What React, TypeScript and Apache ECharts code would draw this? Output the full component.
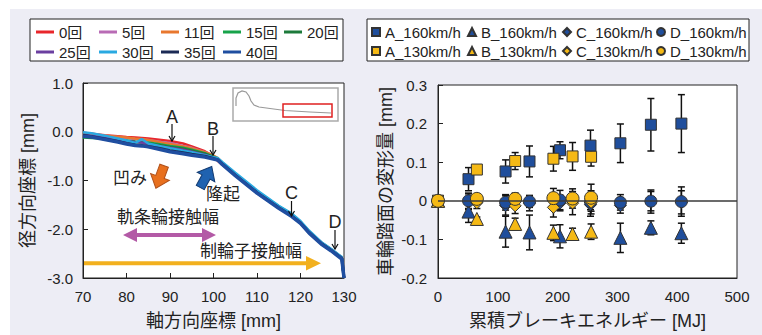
import React, { useEffect, useRef } from "react";
import * as echarts from "echarts";

const FONT = '"Liberation Sans", "Noto Sans CJK JP", sans-serif';

// ---- Left chart: tread profile (axial coordinate vs radial coordinate) ----
const profileX = [70, 72, 75, 78, 80, 82, 83.5, 85, 88, 90, 93, 95, 98, 100, 101, 102, 105, 110, 115, 118, 120, 122, 125, 127, 129.5, 130];
const profile0 = [-0.02, -0.04, -0.07, -0.09, -0.11, -0.12, -0.13, -0.14, -0.17, -0.19, -0.24, -0.3, -0.4, -0.5, -0.6, -0.67, -0.88, -1.24, -1.55, -1.72, -1.86, -2.05, -2.29, -2.41, -2.58, -3.0];
const profile5 = [-0.03, -0.05, -0.08, -0.11, -0.13, -0.15, -0.16, -0.17, -0.21, -0.23, -0.29, -0.33, -0.42, -0.5, -0.55, -0.64, -0.87, -1.23, -1.54, -1.71, -1.86, -2.05, -2.29, -2.41, -2.58, -3.0];
const profile11 = [-0.04, -0.06, -0.08, -0.1, -0.12, -0.14, -0.15, -0.17, -0.22, -0.25, -0.3, -0.34, -0.42, -0.49, -0.54, -0.63, -0.86, -1.23, -1.54, -1.71, -1.85, -2.05, -2.29, -2.41, -2.58, -3.0];
const profile15 = [-0.12, -0.13, -0.14, -0.16, -0.18, -0.2, -0.21, -0.22, -0.26, -0.29, -0.33, -0.37, -0.44, -0.51, -0.55, -0.64, -0.87, -1.22, -1.53, -1.69, -1.85, -2.05, -2.3, -2.42, -2.59, -3.0];
const profile20 = [-0.1, -0.12, -0.14, -0.17, -0.19, -0.21, -0.22, -0.24, -0.28, -0.31, -0.35, -0.39, -0.45, -0.52, -0.56, -0.65, -0.87, -1.23, -1.54, -1.7, -1.86, -2.06, -2.3, -2.42, -2.59, -3.0];
const profile25 = [-0.06, -0.08, -0.12, -0.16, -0.19, -0.21, -0.22, -0.25, -0.3, -0.33, -0.37, -0.41, -0.47, -0.53, -0.57, -0.65, -0.88, -1.24, -1.55, -1.71, -1.86, -2.06, -2.3, -2.42, -2.59, -3.0];
const profile30 = [-0.01, -0.03, -0.08, -0.14, -0.18, -0.23, -0.15, -0.24, -0.3, -0.34, -0.39, -0.42, -0.48, -0.52, -0.54, -0.62, -0.84, -1.2, -1.52, -1.68, -1.83, -2.03, -2.28, -2.4, -2.57, -3.0];
const profile35 = [-0.07, -0.1, -0.15, -0.2, -0.24, -0.27, -0.28, -0.3, -0.35, -0.39, -0.43, -0.46, -0.5, -0.55, -0.58, -0.66, -0.89, -1.25, -1.56, -1.73, -1.87, -2.07, -2.31, -2.43, -2.6, -3.0];
const profile40 = [-0.09, -0.11, -0.16, -0.21, -0.25, -0.28, -0.29, -0.31, -0.37, -0.41, -0.45, -0.48, -0.52, -0.56, -0.58, -0.67, -0.9, -1.26, -1.57, -1.74, -1.88, -2.08, -2.32, -2.44, -2.61, -3.0];

const profileNames = ["0回", "5回", "11回", "15回", "20回", "25回", "30回", "35回", "40回"];
const profileColors = ["#e8262b", "#b86bb5", "#e8772e", "#17a34a", "#1d7a3b", "#6b3fa0", "#29a9e1", "#1b2a55", "#1f4ea0"];
const profileWidths = [2.5, 2.5, 2.5, 2.5, 2.5, 2.5, 2.5, 3, 3.5];
const profiles = [profile0, profile5, profile11, profile15, profile20, profile25, profile30, profile35, profile40];

const leftXTicks = { min: 70, max: 130, interval: 10 };
const leftYTicks = { min: -3, max: 1, interval: 1 };

// ---- Right chart: deformation vs cumulative brake energy ----
const energy160 = [0, 51, 113, 153, 204, 255, 305, 356, 407];
const energyB160 = [0, 51, 113, 153, 204, 305, 356, 407];
const energy130 = [0, 65, 129, 193, 225, 256];

const defA160 = [0, 0.056, 0.076, 0.102, 0.131, 0.143, 0.149, 0.197, 0.2];
const errA160 = [0, 0.03, 0.03, 0.04, 0.022, 0.04, 0.05, 0.068, 0.075];
const defB160 = [0, -0.028, -0.08, -0.082, -0.092, -0.096, -0.07, -0.084];
const errB160 = [0, 0.028, 0.04, 0.045, 0.03, 0.038, 0.018, 0.026];
const defC160 = [0, -0.002, -0.012, -0.006, -0.006, -0.01, -0.012, -0.002, -0.004];
const errC160 = [0, 0.02, 0.025, 0.02, 0.02, 0.03, 0.02, 0.03, 0.03];
const defD160 = [0, 0, -0.004, -0.002, 0.002, -0.003, -0.004, -0.001, -0.002];
const errD160 = [0, 0.02, 0.02, 0.015, 0.025, 0.02, 0.02, 0.025, 0.038];

const defA130 = [0, 0.081, 0.103, 0.109, 0.115, 0.114];
const errA130 = [0, 0.003, 0.022, 0.032, 0.036, 0.024];
const defB130 = [0, -0.047, -0.06, -0.083, -0.086, -0.08];
const errB130 = [0, 0.005, 0.015, 0.02, 0.015, 0.02];
const defC130 = [0, -0.005, -0.013, -0.017, -0.006, -0.004];
const errC130 = [0, 0.015, 0.02, 0.025, 0.03, 0.03];
const defD130 = [0, 0.005, 0.005, 0.007, 0.006, 0.008];
const errD130 = [0, 0.01, 0.015, 0.025, 0.025, 0.035];

const rightXTicks = { min: 0, max: 500, interval: 100 };
const rightYTicks = { min: -0.2, max: 0.3, interval: 0.1 };

const BLUE = "#1f4e9c";
const YELLOW = "#f5b915";

const scatterDefs = [
  { name: "A_160km/h", x: energy160, y: defA160, e: errA160, symbol: "rect", size: 11, color: BLUE },
  { name: "B_160km/h", x: energyB160, y: defB160, e: errB160, symbol: "triangle", size: 13, color: BLUE },
  { name: "C_160km/h", x: energy160, y: defC160, e: errC160, symbol: "diamond", size: 12, color: BLUE },
  { name: "D_160km/h", x: energy160, y: defD160, e: errD160, symbol: "circle", size: 12, color: BLUE },
  { name: "A_130km/h", x: energy130, y: defA130, e: errA130, symbol: "rect", size: 11, color: YELLOW },
  { name: "B_130km/h", x: energy130, y: defB130, e: errB130, symbol: "triangle", size: 13, color: YELLOW },
  { name: "C_130km/h", x: energy130, y: defC130, e: errC130, symbol: "diamond", size: 12, color: YELLOW },
  { name: "D_130km/h", x: energy130, y: defD130, e: errD130, symbol: "circle", size: 13, color: YELLOW },
];

function errorRender(params: any, api: any) {
  const x = api.value(0);
  const y = api.value(1);
  const e = api.value(2);
  if (!e) return null;
  const top = api.coord([x, y + e]);
  const bot = api.coord([x, y - e]);
  const w = 3.5;
  const style = { stroke: "#111", lineWidth: 1.5 };
  return {
    type: "group",
    children: [
      { type: "line", shape: { x1: top[0], y1: top[1], x2: bot[0], y2: bot[1] }, style },
      { type: "line", shape: { x1: top[0] - w, y1: top[1], x2: top[0] + w, y2: top[1] }, style },
      { type: "line", shape: { x1: bot[0] - w, y1: bot[1], x2: bot[0] + w, y2: bot[1] }, style },
    ],
  };
}

function arrowDown(x: number, y1: number, y2: number) {
  return [
    { type: "line", shape: { x1: x, y1, x2: x, y2 }, style: { stroke: "#111", lineWidth: 1.2 } },
    { type: "polyline", shape: { points: [[x - 3, y2 - 5], [x, y2], [x + 3, y2 - 5]] }, style: { stroke: "#111", lineWidth: 1.2, fill: null } },
  ];
}

function blockArrow(cx: number, cy: number, rot: number, fill: string, stroke: string) {
  return {
    type: "polygon",
    x: cx,
    y: cy,
    rotation: rot,
    shape: { points: [[-4.5, 12], [4.5, 12], [4.5, 0], [10, 0], [0, -12], [-10, 0], [-4.5, 0]] },
    style: { fill, stroke, lineWidth: 1 },
  };
}

function txt(x: number, y: number, s: string, size = 17) {
  return {
    type: "text",
    x,
    y,
    style: { text: s, fontSize: size, fontFamily: FONT, fill: "#222", align: "center", verticalAlign: "middle" },
  };
}

export default function App() {
  const ref = useRef<HTMLDivElement>(null);
  useEffect(() => {
    if (!ref.current) return;
    const chart = echarts.init(ref.current, null, { renderer: "svg" });

    const labelStyle = { fontSize: 15, color: "#222", fontFamily: FONT };
    const nameStyle = { fontSize: 18, color: "#222", fontFamily: FONT };
    const axisLine = { show: true, onZero: false, lineStyle: { color: "#222", width: 1 } };
    const axisTick = { show: true, inside: true, length: 5, lineStyle: { color: "#222", width: 1 } };

    const lineSeries = profiles.map((ys, i) => ({
      name: profileNames[i],
      type: "line",
      xAxisIndex: 0,
      yAxisIndex: 0,
      showSymbol: false,
      symbol: "none",
      data: profileX.map((x, j) => [x, ys[j]]),
      lineStyle: { color: profileColors[i], width: profileWidths[i] },
      itemStyle: { color: profileColors[i] },
      z: 2 + i * 0.01,
      silent: true,
    }));

    const errSeries = scatterDefs.map((d) => ({
      name: d.name + "_err",
      type: "custom",
      xAxisIndex: 1,
      yAxisIndex: 1,
      renderItem: errorRender,
      data: d.x.map((x, j) => [x, d.y[j], d.e[j]]),
      z: 3,
      silent: true,
    }));

    const scatterSeries = scatterDefs.map((d, i) => ({
      name: d.name,
      type: "scatter",
      xAxisIndex: 1,
      yAxisIndex: 1,
      symbol: d.symbol,
      symbolSize: d.size,
      data: d.x.map((x, j) => [x, d.y[j]]),
      itemStyle: { color: d.color, borderColor: "#333", borderWidth: 1, opacity: 1 },
      z: 4 + i * 0.01,
      silent: true,
      ...(i === 0
        ? {
            markLine: {
              silent: true,
              symbol: "none",
              label: { show: false },
              lineStyle: { color: "#3a3a3a", width: 1.5, type: "solid" },
              data: [{ yAxis: 0 }],
            },
          }
        : {}),
    }));

    const leftLegendCols = [
      { data: ["0回", "25回"], left: 36 },
      { data: ["5回", "30回"], left: 99 },
      { data: ["11回", "35回"], left: 161 },
      { data: ["15回", "40回"], left: 223 },
      { data: ["20回"], left: 284 },
    ].map((c) => ({
      data: c.data,
      left: c.left,
      top: 24,
      orient: "vertical",
      icon: "rect",
      itemWidth: 18,
      itemHeight: 3,
      itemGap: 4,
      padding: 0,
      selectedMode: false,
      textStyle: { fontSize: 15, color: "#222", fontFamily: FONT, lineHeight: 16 },
    }));

    const rightLegendCols = [
      { data: ["A_160km/h", "A_130km/h"], left: 371 },
      { data: ["B_160km/h", "B_130km/h"], left: 467 },
      { data: ["C_160km/h", "C_130km/h"], left: 562 },
      { data: ["D_160km/h", "D_130km/h"], left: 656 },
    ].map((c) => ({
      data: c.data,
      left: c.left,
      top: 24,
      orient: "vertical",
      itemWidth: 8,
      itemHeight: 8,
      itemGap: 3,
      padding: 0,
      selectedMode: false,
      textStyle: { fontSize: 15, color: "#222", fontFamily: FONT, lineHeight: 16 },
    }));

    const graphics: any[] = [
      { type: "rect", shape: { x: 30, y: 19, width: 313, height: 42 }, style: { fill: "#fff", stroke: "#222", lineWidth: 1 }, z: -1 },
      { type: "rect", shape: { x: 367, y: 19, width: 382, height: 42 }, style: { fill: "#fff", stroke: "#222", lineWidth: 1 }, z: -1 },
      // inset sketch
      { type: "rect", shape: { x: 233, y: 88, width: 105, height: 33 }, style: { fill: "#fff", stroke: "#aaa", lineWidth: 1.5 }, z: 10 },
      {
        type: "polyline",
        shape: { points: [[236, 106], [236, 98], [238, 93], [242, 91], [246, 92], [249, 96], [251, 101], [254, 105], [259, 107], [270, 108.5], [285, 110.5], [310, 112], [331, 113]] },
        style: { stroke: "#999", lineWidth: 1.2, fill: null },
        z: 11,
      },
      { type: "rect", shape: { x: 283, y: 104, width: 49, height: 13 }, style: { fill: null, stroke: "#e02020", lineWidth: 1.5 }, z: 12 },
      // labels A-D with arrows
      { ...txt(172, 117, "A", 18), z: 10 },
      ...arrowDown(172, 124, 141).map((g) => ({ ...g, z: 10 })),
      { ...txt(213, 129, "B", 18), z: 10 },
      ...arrowDown(213, 136, 155).map((g) => ({ ...g, z: 10 })),
      { ...txt(291.5, 193, "C", 18), z: 10 },
      ...arrowDown(291.5, 201, 216).map((g) => ({ ...g, z: 10 })),
      { ...txt(335, 222, "D", 18), z: 10 },
      ...arrowDown(335, 230, 249).map((g) => ({ ...g, z: 10 })),
      // dent / bulge
      { ...txt(130, 178, "凹み"), z: 10 },
      { ...blockArrow(160, 177, Math.PI - 0.35, "#e8701e", "#b0501a"), z: 10 },
      { ...blockArrow(206, 177, -0.5, "#1f62b0", "#123a70"), z: 10 },
      { ...txt(223, 194, "隆起"), z: 10 },
      // contact widths
      { ...txt(168, 217, "軌条輪接触幅"), z: 10 },
      {
        type: "polygon",
        shape: { points: [[123, 235], [137, 228], [137, 233], [202, 233], [202, 228], [216, 235], [202, 242], [202, 237], [137, 237], [137, 242]] },
        style: { fill: "#b35aa6" },
        z: 10,
      },
      { ...txt(251, 251, "制輪子接触幅"), z: 10 },
      {
        type: "polygon",
        shape: { points: [[84, 261.3], [306, 261.3], [306, 256], [321, 263.3], [306, 270.5], [306, 265.3], [84, 265.3]] },
        style: { fill: "#f2b01e" },
        z: 10,
      },
    ];

    chart.setOption({
      animation: false,
      backgroundColor: "transparent",
      textStyle: { fontFamily: FONT },
      legend: [...leftLegendCols, ...rightLegendCols],
      graphic: graphics,
      grid: [
        { left: 83, top: 83, width: 261, height: 197, show: true, backgroundColor: "#fff", borderColor: "#222", borderWidth: 1 },
        { left: 438, top: 85, width: 299, height: 197, show: true, backgroundColor: "#fff", borderColor: "#222", borderWidth: 1 },
      ],
      xAxis: [
        {
          gridIndex: 0,
          type: "value",
          ...leftXTicks,
          name: "軸方向座標 [mm]",
          nameLocation: "middle",
          nameGap: 34,
          nameTextStyle: nameStyle,
          axisLine,
          axisTick,
          splitLine: { show: false },
          axisLabel: { ...labelStyle, margin: 11 },
        },
        {
          gridIndex: 1,
          type: "value",
          ...rightXTicks,
          name: "累積ブレーキエネルギー [MJ]",
          nameLocation: "middle",
          nameGap: 34,
          nameTextStyle: nameStyle,
          axisLine,
          axisTick: { show: false },
          splitLine: { show: false },
          axisLabel: { ...labelStyle, margin: 11 },
        },
      ],
      yAxis: [
        {
          gridIndex: 0,
          type: "value",
          ...leftYTicks,
          name: "径方向座標 [mm]",
          nameLocation: "middle",
          nameGap: 46,
          nameTextStyle: nameStyle,
          axisLine,
          axisTick,
          splitLine: { show: false },
          axisLabel: { ...labelStyle, margin: 10, formatter: (v: number) => v.toFixed(1) },
        },
        {
          gridIndex: 1,
          type: "value",
          ...rightYTicks,
          name: "車輪踏面の変形量 [mm]",
          nameLocation: "middle",
          nameGap: 43,
          nameTextStyle: nameStyle,
          axisLine,
          axisTick,
          splitLine: { show: false },
          axisLabel: {
            ...labelStyle,
            margin: 11,
            formatter: (v: number) => (Math.abs(v) < 1e-9 ? "0" : v.toFixed(1)),
          },
        },
      ],
      series: [...lineSeries, ...errSeries, ...scatterSeries],
    });

    return () => chart.dispose();
  }, []);

  return (
    <div style={{ position: "fixed", left: 0, top: 0, width: 762, height: 335, background: "#fff", overflow: "hidden" }}>
      <div style={{ position: "absolute", left: 10, top: 9, width: 752, height: 326, background: "#ededf5" }} />
      <div ref={ref} style={{ position: "absolute", left: 0, top: 0, width: 762, height: 335 }} />
    </div>
  );
}
